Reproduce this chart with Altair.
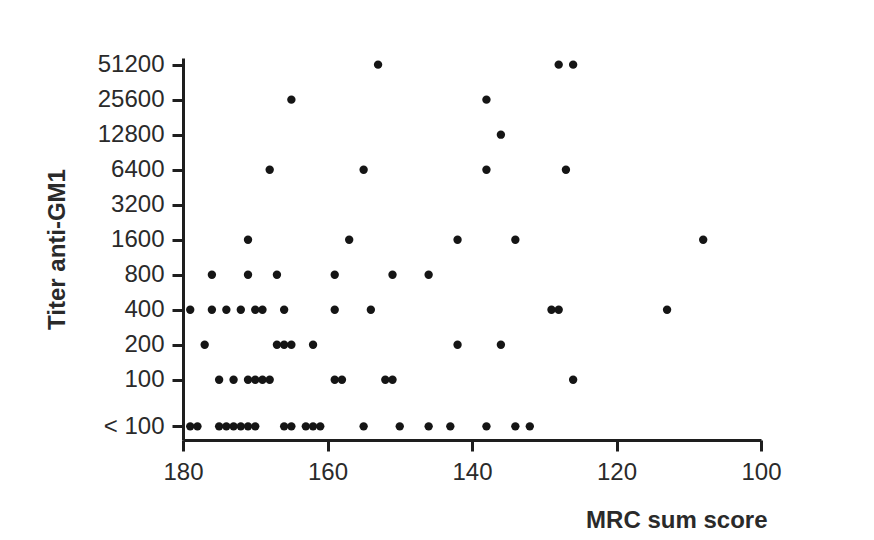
import altair as alt
import pandas as pd

# Titer categories (bottom to top) and MRC sum scores
titer_labels = ["< 100", "100", "200", "400", "800", "1600", "3200",
                "6400", "12800", "25600", "51200"]

mrc_lt100 = [179, 178, 175, 174, 173, 172, 171, 170, 166, 165, 163, 162,
             161, 155, 150, 146, 143, 138, 134, 132]
mrc_100 = [175, 173, 171, 170, 169, 168, 159, 158, 152, 151, 126]
mrc_200 = [177, 167, 166, 165, 162, 142, 136]
mrc_400 = [179, 176, 174, 172, 170, 169, 166, 159, 154, 129, 128, 113]
mrc_800 = [176, 171, 167, 159, 151, 146]
mrc_1600 = [171, 157, 142, 134, 108]
mrc_3200 = []
mrc_6400 = [168, 155, 138, 127]
mrc_12800 = [136]
mrc_25600 = [165, 138]
mrc_51200 = [153, 128, 126]

series = [mrc_lt100, mrc_100, mrc_200, mrc_400, mrc_800, mrc_1600,
          mrc_3200, mrc_6400, mrc_12800, mrc_25600, mrc_51200]

# axis-break position of the "< 100" category on the log2 titer scale
BREAK_POS = -1.33
cat_pos = [BREAK_POS] + list(range(0, 10))

rows = []
for lab, pos, vals in zip(titer_labels, cat_pos, series):
    for v in vals:
        rows.append({"titer": lab, "pos": pos, "mrc": v})
df = pd.DataFrame(rows)

text_color = "#2a2a2a"
line_color = "#1e1e1e"

chart = alt.Chart(df).mark_circle(size=70, color="#151515", opacity=1).encode(
    x=alt.X("mrc:Q",
            scale=alt.Scale(domain=[100, 180], reverse=True, nice=False, zero=False),
            axis=alt.Axis(values=[180, 160, 140, 120, 100], title="MRC sum score",
                          grid=False, tickSize=11, labelPadding=9,
                          titleAlign="right", titleBaseline="alphabetic",
                          titleX=584, titleY=87)),
    y=alt.Y("pos:Q",
            scale=alt.Scale(domain=[-1.72, 9.19], nice=False, zero=False),
            axis=alt.Axis(values=cat_pos, title="Titer anti-GM1", grid=False,
                          tickSize=11, labelPadding=8,
                          labelExpr="datum.value < -0.5 ? '< 100' : format(100 * pow(2, datum.value), 'd')",
                          titleAngle=270, titleAlign="center",
                          titleBaseline="alphabetic", titleX=-119, titleY=191)),
    tooltip=["titer", "mrc"],
).properties(
    width=578, height=382,
    background="white",
    autosize=alt.AutoSizeParams(type="none"),
    padding={"left": 175, "top": 50, "right": 100, "bottom": 92},
).configure_view(stroke=None).configure_axis(
    domainColor=line_color, domainWidth=3, tickColor=line_color, tickWidth=3,
    labelFont="Liberation Sans", labelFontSize=24, labelColor=text_color,
    titleFont="Liberation Sans", titleFontSize=24, titleFontWeight="bold",
    titleColor=text_color, labelOverlap=False, labelFlush=False,
)

chart.save("out.html", embed_options={"renderer": "svg", "actions": False})
